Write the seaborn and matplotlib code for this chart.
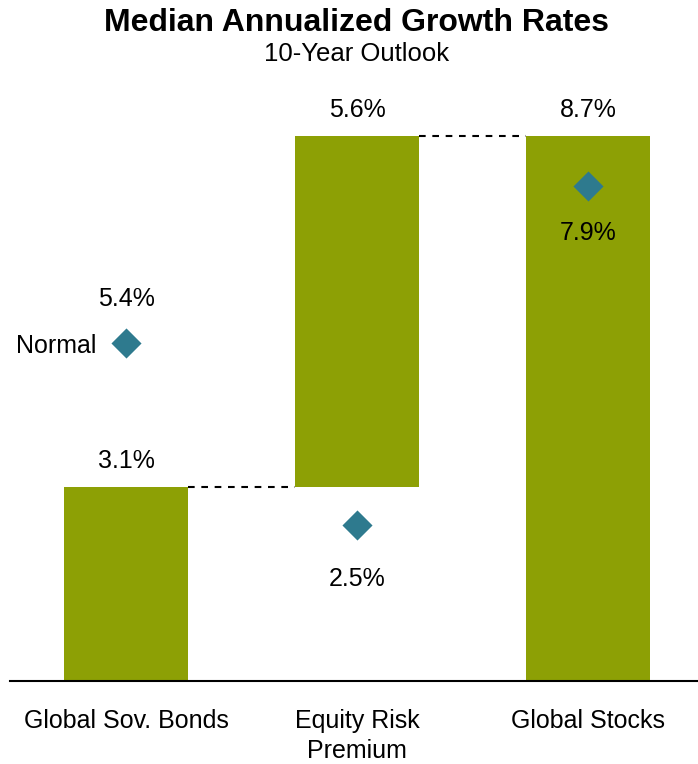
import matplotlib
matplotlib.use("Agg")
import matplotlib.pyplot as plt
import seaborn as sns
import numpy as np

# Waterfall: bonds + equity risk premium = stocks
categories = ["Global Sov. Bonds", "Equity Risk\nPremium", "Global Stocks"]
bar_heights = [3.1, 5.6, 8.7]
bar_bottoms = [0.0, 3.1, 0.0]
normal_values = [5.4, 2.5, 7.9]

BAR_COLOR = "#8DA005"
DIAMOND_COLOR = "#2E7A8E"

sns.set_theme(style="white")
plt.rcParams["font.family"] = ["Liberation Sans", "DejaVu Sans"]

fig = plt.figure(figsize=(6.98, 7.64), dpi=100)
ax = fig.add_axes([10 / 698, 1 - 681 / 764, 688 / 698, (681 - 55) / 764])

sns.barplot(x=categories, y=bar_heights, bottom=bar_bottoms, color=BAR_COLOR,
            saturation=1, width=0.54, linewidth=0, ax=ax)

xs = np.arange(len(categories))
ax.scatter(xs, normal_values, marker="D", s=235, color=DIAMOND_COLOR,
           linewidths=0, zorder=5)

# dashed connectors between consecutive bar tops
half = 0.54 / 2
dash = (0, (3.2, 3.2))
ax.plot([xs[0] + half, xs[1] - half], [bar_heights[0]] * 2, ls=dash,
        color="black", lw=1.5)
ax.plot([xs[1] + half, xs[2] - half], [bar_bottoms[1] + bar_heights[1]] * 2,
        ls=dash, color="black", lw=1.5)

# value labels above bar tops
for x, b, h in zip(xs, bar_bottoms, bar_heights):
    ax.annotate(f"{h:.1f}%", (x, b + h), xytext=(0, 19), textcoords="offset points",
                ha="center", va="center", fontsize=18, color="black")

# labels for the diamond markers
diamond_offsets = [31.5, -39.5, -33.5]
for x, v, off in zip(xs, normal_values, diamond_offsets):
    ax.annotate(f"{v:.1f}%", (x, v), xytext=(0, off), textcoords="offset points",
                ha="center", va="center", fontsize=18, color="black")
ax.annotate("Normal", (xs[0], normal_values[0]), xytext=(-21, -2.5),
            textcoords="offset points", ha="right", va="center", fontsize=18,
            color="black")

ax.set_xlim(-0.502, 2.476)
ax.set_ylim(0, 10)
ax.set_yticks([])
ax.set_xlabel("")
ax.set_ylabel("")
ax.tick_params(axis="x", length=0, pad=20, labelsize=18, labelcolor="black")
for lbl in ax.get_xticklabels():
    lbl.set_linespacing(1.35)
for side in ["top", "right", "left"]:
    ax.spines[side].set_visible(False)
ax.spines["bottom"].set_color("black")
ax.spines["bottom"].set_linewidth(1.5)

fig.text(357 / 698, 1 - 23 / 764, "Median Annualized Growth Rates", ha="center",
         va="center", fontsize=23, fontweight="bold", color="black")
fig.text(357 / 698, 1 - 54 / 764, "10-Year Outlook", ha="center", va="center",
         fontsize=18.5, color="black")

fig.savefig("out.png", dpi=100)
